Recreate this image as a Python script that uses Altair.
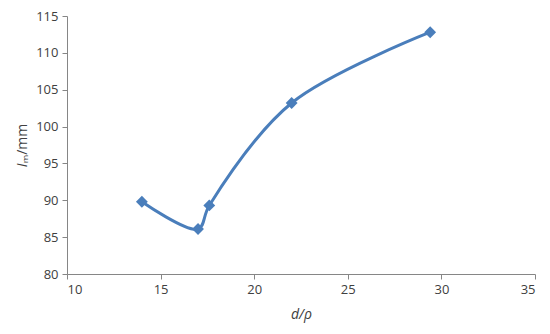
import altair as alt
import pandas as pd

x_vals = [14.0, 17.0, 17.6, 22.0, 29.4]
y_vals = [89.8, 86.1, 89.3, 103.2, 112.8]

df = pd.DataFrame({"x": x_vals, "y": y_vals, "order": list(range(len(x_vals)))})

color = "#4a7ebb"
font = "Open Sans"

x_enc = alt.X("x:Q", scale=alt.Scale(domain=[10, 35], nice=False, zero=False),
              axis=alt.Axis(values=[10, 15, 20, 25, 30, 35], title="d/ρ",
                            titleFontStyle="italic", titleFontWeight="normal",
                            titleFontSize=14, titlePadding=11))
y_enc = alt.Y("y:Q", scale=alt.Scale(domain=[80, 115], nice=False, zero=False),
              axis=alt.Axis(values=[80, 85, 90, 95, 100, 105, 110, 115], title="𝑙ₘ/mm",
                            titleFontWeight="normal", titleFontSize=14, titlePadding=6))

base = alt.Chart(df).encode(x=x_enc, y=y_enc, order="order:Q")

line = base.mark_line(interpolate="catmull-rom", color=color, strokeWidth=3)
pts = base.mark_point(shape="diamond", filled=True, size=140, color=color, opacity=1)

chart = (line + pts).properties(
    width=468, height=258,
    autosize=alt.AutoSizeParams(type="none"),
    padding={"left": 59, "top": 8, "right": 7, "bottom": 52},
).configure_view(stroke=None).configure_axis(
    grid=False, domainColor="#868686", tickColor="#868686", tickSize=5,
    labelFont=font, titleFont=font, labelFontSize=13, labelColor="#404040",
    titleColor="#404040", labelPadding=4,
)

chart.save("out.html", embed_options={"renderer": "svg", "actions": False})
